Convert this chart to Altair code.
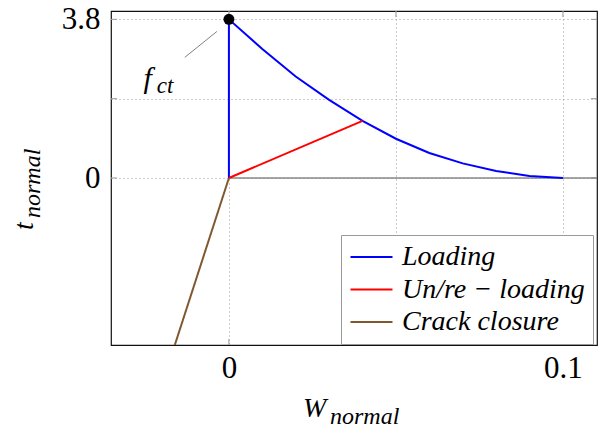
import altair as alt
import pandas as pd

# Traction-separation law of a smeared crack (normal direction)
w_loading = [0.0, 0.0, 0.01, 0.02, 0.03, 0.04, 0.05, 0.06, 0.07, 0.08, 0.09, 0.10]
t_loading = [0.0, 3.8, 3.09, 2.43, 1.87, 1.37, 0.94, 0.60, 0.35, 0.17, 0.05, 0.0]
w_unload = [0.0, 0.04]
t_unload = [0.0, 1.37]
w_closure = [0.0, -0.0162]
t_closure = [0.0, -4.0]

series_names = ["Loading", "Un/re \u2212 loading", "Crack closure"]
series_colors = ["#0000ff", "#ff0000", "#805830"]

peak_w = [0.0]
peak_t = [3.8]

x_ticks = [0, 0.05, 0.1]
y_ticks = [0, 1.9, 3.8]
x_domain = [-0.0353, 0.1102]
y_domain = [-4.0, 4.0]

zero_w = [0.0, 0.1102]
zero_t = [0.0, 0.0]
leader_w = [-0.0132, -0.0036]
leader_t = [2.89, 3.51]

W, H = 486, 334
SERIF = "'Liberation Serif', 'Times New Roman', Times, serif"

rows = []
for name, ws, ts in zip(series_names,
                        [w_loading, w_unload, w_closure],
                        [t_loading, t_unload, t_closure]):
    for i, (w, t) in enumerate(zip(ws, ts)):
        rows.append({"series": name, "w": w, "t": t, "i": i})
lines_df = pd.DataFrame(rows)

xs = alt.Scale(domain=x_domain, nice=False, zero=False)
ys = alt.Scale(domain=y_domain, nice=False, zero=False)

x_axis = alt.Axis(values=x_ticks, title=None, grid=True,
                  gridDash=[1, 3], gridColor="#999999", gridWidth=1,
                  domain=False, ticks=False, tickSize=0,
                  labelExpr="datum.value == 0 ? '0' : datum.value == 0.1 ? '0.1' : ''",
                  labelFont=SERIF, labelFontSize=31, labelColor="black",
                  labelPadding=8, labelFlush=False)
y_axis = alt.Axis(values=y_ticks, title=None, grid=True,
                  gridDash=[1, 3], gridColor="#999999", gridWidth=1,
                  domain=False, ticks=False, tickSize=0,
                  labelExpr="datum.value == 0 ? '0' : datum.value == 3.8 ? '3.8' : ''",
                  labelFont=SERIF, labelFontSize=31, labelColor="black",
                  labelPadding=11, labelFlush=False)

X = alt.X("w:Q", scale=xs, axis=x_axis)
Y = alt.Y("t:Q", scale=ys, axis=y_axis)

# inward tick marks on all four sides
xt = pd.DataFrame({"w": x_ticks})
yt = pd.DataFrame({"t": y_ticks})
tick_color = "#999999"
ticks_top = alt.Chart(xt).mark_rule(color=tick_color).encode(
    x=X, y=alt.value(0), y2=alt.value(6))
ticks_bottom = alt.Chart(xt).mark_rule(color=tick_color).encode(
    x=X, y=alt.value(H - 6), y2=alt.value(H))
ticks_left = alt.Chart(yt).mark_rule(color=tick_color).encode(
    y=Y, x=alt.value(0), x2=alt.value(6))
ticks_right = alt.Chart(yt).mark_rule(color=tick_color).encode(
    y=Y, x=alt.value(W - 6), x2=alt.value(W))

zero_line = alt.Chart(pd.DataFrame({"w": zero_w, "t": zero_t})).mark_line(
    color="#888888", strokeWidth=1.5).encode(x=X, y=Y)

curves = alt.Chart(lines_df).mark_line(strokeWidth=2, clip=True).encode(
    x=X, y=Y, order="i:Q",
    color=alt.Color("series:N",
                    scale=alt.Scale(domain=series_names, range=series_colors),
                    legend=alt.Legend(
                        orient="none", legendX=230, legendY=224, title=None,
                        symbolType="M-2,0H2", symbolSize=441,
                        symbolStrokeWidth=2, symbolOffset=8.5,
                        labelOffset=16.5, labelFont=SERIF,
                        labelFontStyle="italic", labelFontSize=28,
                        labelColor="black", labelLimit=400,
                        padding=8, rowPadding=4.5,
                        strokeColor="#999999", fillColor="white",
                        cornerRadius=0)))

peak = alt.Chart(pd.DataFrame({"w": peak_w, "t": peak_t})).mark_circle(
    color="black", size=120, opacity=1).encode(x=X, y=Y)

leader = alt.Chart(pd.DataFrame({"w": [leader_w[0]], "w2": [leader_w[1]],
                                 "t": [leader_t[0]], "t2": [leader_t[1]]})
                   ).mark_rule(color="#808080", strokeWidth=1).encode(
    x=X, x2="w2:Q", y=Y, y2="t2:Q")

fct_main = alt.Chart(pd.DataFrame({"w": [-0.0243], "t": [2.15], "s": ["f"]})
                     ).mark_text(font=SERIF, fontStyle="italic", fontSize=30,
                                 align="center", baseline="alphabetic",
                                 color="black").encode(x=X, y=Y, text="s:N")
fct_sub = alt.Chart(pd.DataFrame({"w": [-0.0216], "t": [2.03], "s": ["ct"]})
                    ).mark_text(font=SERIF, fontStyle="italic", fontSize=23,
                                align="left", baseline="alphabetic",
                                color="black").encode(x=X, y=Y, text="s:N")


def label(txt, px, py, size, angle=0):
    return alt.Chart(pd.DataFrame({"s": [txt]})).mark_text(
        font=SERIF, fontStyle="italic", fontSize=size, align="left",
        baseline="alphabetic", angle=angle, color="black").encode(
        text="s:N", x=alt.value(px), y=alt.value(py))


x_title = label("W", 192, 406, 28) + label("normal", 219, 413, 24)
y_title = label("t", -78, 219, 28, 270) + label("normal", -71, 207, 24, 270)

chart = alt.layer(
    ticks_top, ticks_bottom, ticks_left, ticks_right,
    zero_line, curves, peak, leader, fct_main, fct_sub,
    x_title, y_title,
).properties(
    width=W, height=H,
    autosize=alt.AutoSizeParams(type="none"),
    padding={"left": 111, "top": 11, "right": 9, "bottom": 84},
    background="white",
).configure_view(stroke="#111111", strokeWidth=1.2)

chart.save("out.html", embed_options={"renderer": "svg", "actions": False})
